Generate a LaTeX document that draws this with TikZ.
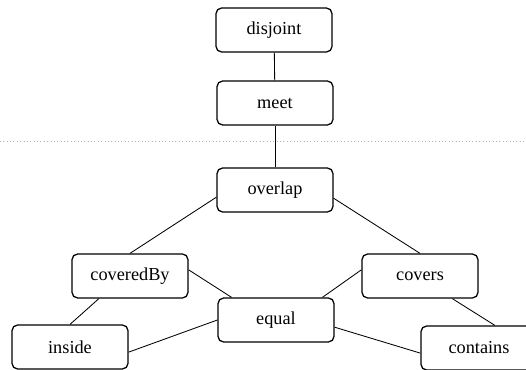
\documentclass[tikz,border=0pt]{standalone}
\usepackage{fontspec}
\setmainfont{Liberation Serif}

\begin{document}
\begin{tikzpicture}[x=0.025cm, y=-0.025cm,
        box/.style={draw, rounded corners=4pt, line width=0.9pt, minimum width=2.9cm, minimum height=1.1cm, align=center, font=\fontsize{13}{15}\selectfont},
        link/.style={line width=0.6pt}
    ]
        \useasboundingbox (0,0) rectangle (526,369);
        \draw[gray!60, dotted] (0,141) -- (526,141);
        \node[box] (disjoint) at (274,30) {disjoint};
        \node[box] (meet) at (275,103) {meet};
        \node[box] (overlap) at (275,190) {overlap};
        \node[box] (coveredBy) at (130,276) {coveredBy};
        \node[box] (covers) at (420,276) {covers};
        \node[box] (equal) at (276,320) {equal};
        \node[box] (inside) at (70,347) {inside};
        \node[box] (contains) at (479,348) {contains};
        \draw[link] (disjoint) -- (meet);
        \draw[link] (meet) -- (overlap);
        \draw[link] (overlap.187) -- (coveredBy.north);
        \draw[link] (overlap.-8) -- (covers.north);
        \draw[link] (coveredBy.6) -- (equal.153);
        \draw[link] (covers.174) -- (equal.26);
        \draw[link] (coveredBy.216) -- (inside.north);
        \draw[link] (covers.-35) -- (contains.55);
        \draw[link] (equal.west) -- (inside.-5);
        \draw[link] (equal.-7) -- (contains.185);
    \end{tikzpicture}
\end{document}
